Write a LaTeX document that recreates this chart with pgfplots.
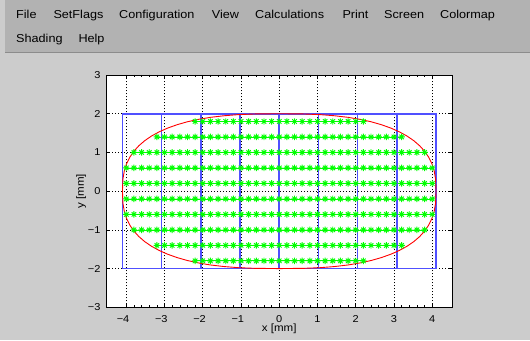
\documentclass[border=0pt]{standalone}
\usepackage{fontspec}
\setmainfont{Liberation Sans}[FakeStretch=1.1]
\usepackage{pgfplots}
\pgfplotsset{compat=1.18}
\definecolor{figbg}{RGB}{204,204,204}
\definecolor{menubg}{RGB}{178,178,178}
\definecolor{menusep}{RGB}{140,140,140}
\definecolor{mblue}{RGB}{80,80,255}
\definecolor{mgreen}{RGB}{0,255,0}
\definecolor{mred}{RGB}{255,0,0}
\pgfdeclareplotmark{mstar}{%
  \pgfpathmoveto{\pgfqpoint{-\pgfplotmarksize}{0pt}}\pgfpathlineto{\pgfqpoint{\pgfplotmarksize}{0pt}}%
  \pgfpathmoveto{\pgfqpoint{0pt}{-\pgfplotmarksize}}\pgfpathlineto{\pgfqpoint{0pt}{\pgfplotmarksize}}%
  \pgfpathmoveto{\pgfqpoint{-0.707\pgfplotmarksize}{-0.707\pgfplotmarksize}}\pgfpathlineto{\pgfqpoint{0.707\pgfplotmarksize}{0.707\pgfplotmarksize}}%
  \pgfpathmoveto{\pgfqpoint{-0.707\pgfplotmarksize}{0.707\pgfplotmarksize}}\pgfpathlineto{\pgfqpoint{0.707\pgfplotmarksize}{-0.707\pgfplotmarksize}}%
  \pgfusepathqstroke}
\begin{document}
\begin{tikzpicture}
\path[use as bounding box] (0pt,0pt) rectangle (530pt,340pt);
\fill[figbg] (0pt,0pt) rectangle (530pt,340pt);
\fill[menubg] (5pt,288pt) rectangle (530pt,340pt);
\fill[menusep] (5pt,286.7pt) rectangle (530pt,288pt);
\begin{scope}[every node/.style={anchor=base west, inner sep=0pt, font=\fontsize{11.5}{13}\selectfont}]
\node at (16pt,321.7pt) {File};
\node at (53.3pt,321.7pt) {SetFlags};
\node at (119pt,321.7pt) {Configuration};
\node at (211.7pt,321.7pt) {View};
\node at (255pt,321.7pt) {Calculations};
\node at (342.3pt,321.7pt) {Print};
\node at (384pt,321.7pt) {Screen};
\node at (440pt,321.7pt) {Colormap};
\node at (16pt,297pt) {Shading};
\node at (78.3pt,297pt) {Help};
\end{scope}
\begin{axis}[
  at={(106pt,32.7pt)}, anchor=south west,
  scale only axis, width=346.5pt, height=232.3pt,
  xmin=-4.53, xmax=4.53, ymin=-3, ymax=3,
  xtick={-4,-3,-2,-1,0,1,2,3,4}, ytick={-3,-2,-1,0,1,2,3},
  xticklabels={\llap{−}4,\llap{−}3,\llap{−}2,\llap{−}1,0,1,2,3,4},
  yticklabels={−3,−2,−1,0,1,2,3},
  minor x tick num=4,
  tick align=inside,
  major tick length=3.5pt, minor tick length=2pt,
  every tick/.style={black, line width=0.6pt},
  grid=major,
  grid style={black, line width=0.6pt, dash pattern=on 0.8pt off 2.2pt},
  axis line style={black, line width=0.9pt},
  axis background/.style={fill=white},
  tick label style={font=\fontsize{10}{12}\selectfont, inner sep=0pt},
  xticklabel style={anchor=base, yshift=-15pt},
  yticklabel style={anchor=east, xshift=-5.3pt},
  xlabel={x [mm]}, ylabel={y [mm]},
  every axis x label/.style={at={(axis description cs:0.5,0)}, anchor=base, yshift=-24.2pt, inner sep=0pt, font=\fontsize{10.5}{12}\selectfont},
  every axis y label/.style={at={([xshift=-22pt]axis description cs:0,0.5)}, rotate=90, anchor=base, inner sep=0pt, font=\fontsize{10.5}{12}\selectfont},
  greenrow/.style={color=mgreen, line width=0.7pt, mark=mstar, mark size=3.2pt, mark options={line width=0.9pt}},
]
% green sampling rows
\addplot[greenrow] coordinates {(-2.2,1.8)(-2,1.8)(-1.8,1.8)(-1.6,1.8)(-1.4,1.8)(-1.2,1.8)(-1,1.8)(-0.8,1.8)(-0.6,1.8)(-0.4,1.8)(-0.2,1.8)(0,1.8)(0.2,1.8)(0.4,1.8)(0.6,1.8)(0.8,1.8)(1,1.8)(1.2,1.8)(1.4,1.8)(1.6,1.8)(1.8,1.8)(2,1.8)(2.2,1.8)};
\addplot[greenrow] coordinates {(-3.2,1.4)(-3,1.4)(-2.8,1.4)(-2.6,1.4)(-2.4,1.4)(-2.2,1.4)(-2,1.4)(-1.8,1.4)(-1.6,1.4)(-1.4,1.4)(-1.2,1.4)(-1,1.4)(-0.8,1.4)(-0.6,1.4)(-0.4,1.4)(-0.2,1.4)(0,1.4)(0.2,1.4)(0.4,1.4)(0.6,1.4)(0.8,1.4)(1,1.4)(1.2,1.4)(1.4,1.4)(1.6,1.4)(1.8,1.4)(2,1.4)(2.2,1.4)(2.4,1.4)(2.6,1.4)(2.8,1.4)(3,1.4)(3.2,1.4)};
\addplot[greenrow] coordinates {(-3.8,1)(-3.6,1)(-3.4,1)(-3.2,1)(-3,1)(-2.8,1)(-2.6,1)(-2.4,1)(-2.2,1)(-2,1)(-1.8,1)(-1.6,1)(-1.4,1)(-1.2,1)(-1,1)(-0.8,1)(-0.6,1)(-0.4,1)(-0.2,1)(0,1)(0.2,1)(0.4,1)(0.6,1)(0.8,1)(1,1)(1.2,1)(1.4,1)(1.6,1)(1.8,1)(2,1)(2.2,1)(2.4,1)(2.6,1)(2.8,1)(3,1)(3.2,1)(3.4,1)(3.6,1)(3.8,1)};
\addplot[greenrow] coordinates {(-4,0.6)(-3.8,0.6)(-3.6,0.6)(-3.4,0.6)(-3.2,0.6)(-3,0.6)(-2.8,0.6)(-2.6,0.6)(-2.4,0.6)(-2.2,0.6)(-2,0.6)(-1.8,0.6)(-1.6,0.6)(-1.4,0.6)(-1.2,0.6)(-1,0.6)(-0.8,0.6)(-0.6,0.6)(-0.4,0.6)(-0.2,0.6)(0,0.6)(0.2,0.6)(0.4,0.6)(0.6,0.6)(0.8,0.6)(1,0.6)(1.2,0.6)(1.4,0.6)(1.6,0.6)(1.8,0.6)(2,0.6)(2.2,0.6)(2.4,0.6)(2.6,0.6)(2.8,0.6)(3,0.6)(3.2,0.6)(3.4,0.6)(3.6,0.6)(3.8,0.6)(4,0.6)};
\addplot[greenrow] coordinates {(-4,0.2)(-3.8,0.2)(-3.6,0.2)(-3.4,0.2)(-3.2,0.2)(-3,0.2)(-2.8,0.2)(-2.6,0.2)(-2.4,0.2)(-2.2,0.2)(-2,0.2)(-1.8,0.2)(-1.6,0.2)(-1.4,0.2)(-1.2,0.2)(-1,0.2)(-0.8,0.2)(-0.6,0.2)(-0.4,0.2)(-0.2,0.2)(0,0.2)(0.2,0.2)(0.4,0.2)(0.6,0.2)(0.8,0.2)(1,0.2)(1.2,0.2)(1.4,0.2)(1.6,0.2)(1.8,0.2)(2,0.2)(2.2,0.2)(2.4,0.2)(2.6,0.2)(2.8,0.2)(3,0.2)(3.2,0.2)(3.4,0.2)(3.6,0.2)(3.8,0.2)(4,0.2)};
\addplot[greenrow] coordinates {(-4,-0.2)(-3.8,-0.2)(-3.6,-0.2)(-3.4,-0.2)(-3.2,-0.2)(-3,-0.2)(-2.8,-0.2)(-2.6,-0.2)(-2.4,-0.2)(-2.2,-0.2)(-2,-0.2)(-1.8,-0.2)(-1.6,-0.2)(-1.4,-0.2)(-1.2,-0.2)(-1,-0.2)(-0.8,-0.2)(-0.6,-0.2)(-0.4,-0.2)(-0.2,-0.2)(0,-0.2)(0.2,-0.2)(0.4,-0.2)(0.6,-0.2)(0.8,-0.2)(1,-0.2)(1.2,-0.2)(1.4,-0.2)(1.6,-0.2)(1.8,-0.2)(2,-0.2)(2.2,-0.2)(2.4,-0.2)(2.6,-0.2)(2.8,-0.2)(3,-0.2)(3.2,-0.2)(3.4,-0.2)(3.6,-0.2)(3.8,-0.2)(4,-0.2)};
\addplot[greenrow] coordinates {(-4,-0.6)(-3.8,-0.6)(-3.6,-0.6)(-3.4,-0.6)(-3.2,-0.6)(-3,-0.6)(-2.8,-0.6)(-2.6,-0.6)(-2.4,-0.6)(-2.2,-0.6)(-2,-0.6)(-1.8,-0.6)(-1.6,-0.6)(-1.4,-0.6)(-1.2,-0.6)(-1,-0.6)(-0.8,-0.6)(-0.6,-0.6)(-0.4,-0.6)(-0.2,-0.6)(0,-0.6)(0.2,-0.6)(0.4,-0.6)(0.6,-0.6)(0.8,-0.6)(1,-0.6)(1.2,-0.6)(1.4,-0.6)(1.6,-0.6)(1.8,-0.6)(2,-0.6)(2.2,-0.6)(2.4,-0.6)(2.6,-0.6)(2.8,-0.6)(3,-0.6)(3.2,-0.6)(3.4,-0.6)(3.6,-0.6)(3.8,-0.6)(4,-0.6)};
\addplot[greenrow] coordinates {(-3.8,-1)(-3.6,-1)(-3.4,-1)(-3.2,-1)(-3,-1)(-2.8,-1)(-2.6,-1)(-2.4,-1)(-2.2,-1)(-2,-1)(-1.8,-1)(-1.6,-1)(-1.4,-1)(-1.2,-1)(-1,-1)(-0.8,-1)(-0.6,-1)(-0.4,-1)(-0.2,-1)(0,-1)(0.2,-1)(0.4,-1)(0.6,-1)(0.8,-1)(1,-1)(1.2,-1)(1.4,-1)(1.6,-1)(1.8,-1)(2,-1)(2.2,-1)(2.4,-1)(2.6,-1)(2.8,-1)(3,-1)(3.2,-1)(3.4,-1)(3.6,-1)(3.8,-1)};
\addplot[greenrow] coordinates {(-3.2,-1.4)(-3,-1.4)(-2.8,-1.4)(-2.6,-1.4)(-2.4,-1.4)(-2.2,-1.4)(-2,-1.4)(-1.8,-1.4)(-1.6,-1.4)(-1.4,-1.4)(-1.2,-1.4)(-1,-1.4)(-0.8,-1.4)(-0.6,-1.4)(-0.4,-1.4)(-0.2,-1.4)(0,-1.4)(0.2,-1.4)(0.4,-1.4)(0.6,-1.4)(0.8,-1.4)(1,-1.4)(1.2,-1.4)(1.4,-1.4)(1.6,-1.4)(1.8,-1.4)(2,-1.4)(2.2,-1.4)(2.4,-1.4)(2.6,-1.4)(2.8,-1.4)(3,-1.4)(3.2,-1.4)};
\addplot[greenrow] coordinates {(-2.2,-1.8)(-2,-1.8)(-1.8,-1.8)(-1.6,-1.8)(-1.4,-1.8)(-1.2,-1.8)(-1,-1.8)(-0.8,-1.8)(-0.6,-1.8)(-0.4,-1.8)(-0.2,-1.8)(0,-1.8)(0.2,-1.8)(0.4,-1.8)(0.6,-1.8)(0.8,-1.8)(1,-1.8)(1.2,-1.8)(1.4,-1.8)(1.6,-1.8)(1.8,-1.8)(2,-1.8)(2.2,-1.8)};
% blue cell outlines
\addplot[mblue, line width=1.6pt, unbounded coords=jump, mark=none] coordinates {
 (-4.1,-2)(4.1,-2)(4.1,2)(-4.1,2)(-4.1,-2) (nan,nan)
 (-3.075,-2)(-3.075,2) (nan,nan)
 (-2.05,-2)(-2.05,2) (nan,nan)
 (-1.025,-2)(-1.025,2) (nan,nan)
 (0,-2)(0,2) (nan,nan)
 (1.025,-2)(1.025,2) (nan,nan)
 (2.05,-2)(2.05,2) (nan,nan)
 (3.075,-2)(3.075,2)};
% red contour
\addplot[mred, line width=0.9pt, mark=none] coordinates {
(4.1,0)(4.088,0.306)(4.052,0.52)(3.992,0.707)(3.908,0.876)(3.801,1.031)(3.671,1.173)(3.517,1.304)(3.34,1.424)(3.14,1.532)(2.918,1.629)(2.674,1.715)(2.405,1.791)(2.114,1.854)(1.796,1.907)(1.45,1.947)(1.066,1.977)(0.628,1.994)(0,2)
(-0.628,1.994)(-1.066,1.977)(-1.45,1.947)(-1.796,1.907)(-2.114,1.854)(-2.405,1.791)(-2.674,1.715)(-2.918,1.629)(-3.14,1.532)(-3.34,1.424)(-3.517,1.304)(-3.671,1.173)(-3.801,1.031)(-3.908,0.876)(-3.992,0.707)(-4.052,0.52)(-4.088,0.306)(-4.1,0)
(-4.088,-0.306)(-4.052,-0.52)(-3.992,-0.707)(-3.908,-0.876)(-3.801,-1.031)(-3.671,-1.173)(-3.517,-1.304)(-3.34,-1.424)(-3.14,-1.532)(-2.918,-1.629)(-2.674,-1.715)(-2.405,-1.791)(-2.114,-1.854)(-1.796,-1.907)(-1.45,-1.947)(-1.066,-1.977)(-0.628,-1.994)(0,-2)
(0.628,-1.994)(1.066,-1.977)(1.45,-1.947)(1.796,-1.907)(2.114,-1.854)(2.405,-1.791)(2.674,-1.715)(2.918,-1.629)(3.14,-1.532)(3.34,-1.424)(3.517,-1.304)(3.671,-1.173)(3.801,-1.031)(3.908,-0.876)(3.992,-0.707)(4.052,-0.52)(4.088,-0.306)(4.1,0)};
\end{axis}
\end{tikzpicture}
\end{document}
